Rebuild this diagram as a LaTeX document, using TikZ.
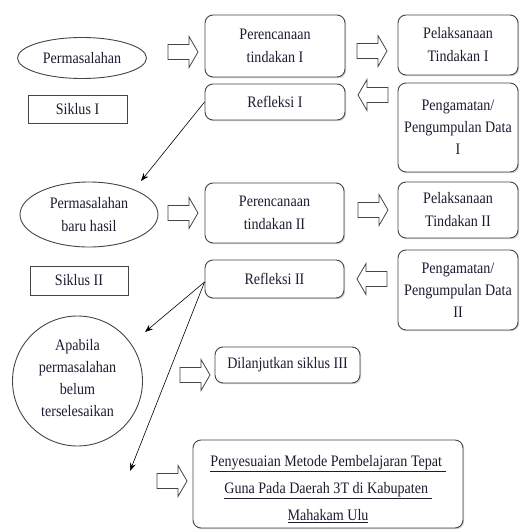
\documentclass[tikz,border=0pt]{standalone}
\usepackage{fontspec}
\setmainfont{Liberation Serif}[FakeStretch=0.88]
\usetikzlibrary{shapes.geometric,arrows.meta,shadows}
\definecolor{txt}{HTML}{1C1C30}
\definecolor{edge}{HTML}{454545}
\begin{document}
\begin{tikzpicture}[x=1pt,y=-1pt,
  every node/.style={text=txt, font=\fontsize{16}{23}\selectfont, align=center, inner sep=0pt},
  shad/.style={drop shadow={shadow xshift=1.2pt,shadow yshift=-1.2pt,fill=gray!45,opacity=0.8}},
  rbox/.style={draw=edge, line width=0.9pt, rounded corners=8pt, fill=white, shad},
  sbox/.style={draw=edge, line width=0.9pt, fill=white, shad},
  oval/.style={ellipse, draw=edge, line width=0.9pt, fill=white},
  conn/.style={draw=black, line width=0.6pt, -{Stealth[length=8pt,width=6pt]}},
  harrow/.pic={\draw[edge, line width=0.8pt, fill=white] (0,-7.5) -- (21,-7.5) -- (21,-15.5) -- (30,0) -- (21,15.5) -- (21,7.5) -- (0,7.5) -- cycle;}
]
\useasboundingbox (0,0) rectangle (521,530);

% row 1
\node[oval, minimum width=129, minimum height=41] (p1) at (82,58) {Permasalahan};
\node[rbox, minimum width=140, minimum height=62] (pr1) at (275,46) {Perencanaan\\tindakan I};
\node[rbox, minimum width=120, minimum height=60] (pl1) at (458,45) {Pelaksanaan\\Tindakan I};
\node[sbox, minimum width=99, minimum height=28] (s1) at (77.5,109) {Siklus I};
\node[rbox, minimum width=140, minimum height=36] (r1) at (275,102) {Refleksi I};
\node[rbox, minimum width=120, minimum height=89, font=\fontsize{16}{22}\selectfont] (pg1) at (458,127.5) {Pengamatan/\\Pengumpulan Data\\I};

\pic at (168,52) {harrow};
\pic at (357,51) {harrow};
\pic[xscale=-1] at (388,95) {harrow};

% row 2
\node[oval, minimum width=138, minimum height=65] (p2) at (89,214.5) {Permasalahan\\baru hasil};
\node[rbox, minimum width=139, minimum height=60] (pr2) at (274.5,213) {Perencanaan\\tindakan II};
\node[rbox, minimum width=120, minimum height=56] (pl2) at (458,210) {Pelaksanaan\\Tindakan II};
\node[sbox, minimum width=98, minimum height=29] (s2) at (79,280.5) {Siklus II};
\node[rbox, minimum width=139, minimum height=38] (r2) at (274.5,279) {Refleksi II};
\node[rbox, minimum width=120, minimum height=80, font=\fontsize{16}{22}\selectfont] (pg2) at (458,290) {Pengamatan/\\Pengumpulan Data\\II};

\pic at (168,213) {harrow};
\pic at (358,210) {harrow};
\pic[xscale=-1] at (387,279) {harrow};

% row 3
\node[circle, draw=edge, line width=0.9pt, minimum size=130] (c) at (77.5,381) {};
\node[font=\fontsize{16}{22}\selectfont] (ct) at (77.5,378) {Apabila\\permasalahan\\belum\\terselesaikan};
\node[rbox, minimum width=145, minimum height=36] (d) at (287.5,365) {Dilanjutkan siklus III};
\node[rbox, minimum width=270, minimum height=88] (f) at (328,484) {};
\node[font=\fontsize{16}{27}\selectfont] (ft) at (328,489)
  {\underline{Penyesuaian Metode Pembelajaran Tepat\ }\\\underline{Guna Pada Daerah 3T di Kabupaten\ }\\\underline{Mahakam Ulu}};

\pic at (180,375) {harrow};
\pic at (157,481) {harrow};

% connectors
\coordinate (t1) at (141,181);
\coordinate (t2) at (145,332);
\coordinate (t3) at (130,471);
\draw[conn] (r1.west) -- (t1);
\draw[conn] ([yshift=-3pt]r2.west) -- (t2);
\draw[conn] ([yshift=-3pt]r2.west) -- (t3);
\end{tikzpicture}
\end{document}
